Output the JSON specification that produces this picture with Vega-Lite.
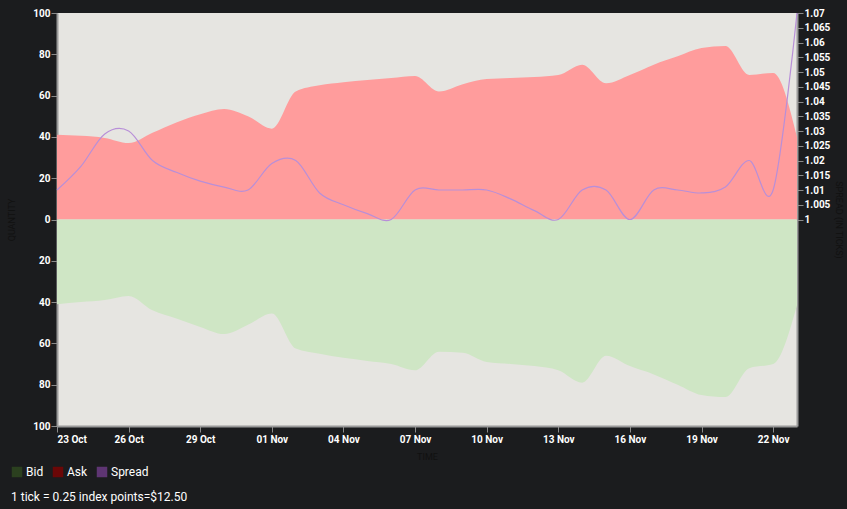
{
  "$schema": "https://vega.github.io/schema/vega-lite/v6.json",
  "autosize": "none",
  "width": 740,
  "height": 413,
  "padding": {"left": 57, "top": 13, "right": 50, "bottom": 83},
  "background": "#1b1c1e",
  "view": {"fill": "#e6e5e1", "stroke": null},
  "config": {
    "view": {"fill": "#e6e5e1", "stroke": null},
    "font": "Roboto",
    "axis": {
      "labelColor": "#ffffff",
      "labelFont": "Roboto",
      "labelFontSize": 10,
      "labelFontWeight": "bold",
      "tickColor": "#8a8a8a",
      "domainColor": "#9a9a9a",
      "domainWidth": 2,
      "tickSize": 6,
      "grid": false,
      "titleColor": "#111111",
      "titleFont": "Roboto",
      "titleFontSize": 9,
      "titleFontWeight": "normal"
    }
  },
  "title": {
    "text": "1 tick = 0.25 index points=$12.50",
    "orient": "bottom",
    "anchor": "start",
    "frame": "group",
    "color": "#ffffff",
    "font": "Roboto",
    "fontSize": 12,
    "fontWeight": "normal",
    "dx": -46,
    "offset": 14
  },
  "datasets": {
    "daily": [
      {"date": "2017-10-23T00:00:00", "ask": 41, "bid": -41, "spread": 1.010},
      {"date": "2017-10-24T00:00:00", "ask": 40.5, "bid": -40, "spread": 1.018},
      {"date": "2017-10-25T00:00:00", "ask": 39.5, "bid": -39, "spread": 1.029},
      {"date": "2017-10-26T00:00:00", "ask": 37, "bid": -37, "spread": 1.030},
      {"date": "2017-10-27T00:00:00", "ask": 42, "bid": -44, "spread": 1.020},
      {"date": "2017-10-28T00:00:00", "ask": 47, "bid": -48, "spread": 1.016},
      {"date": "2017-10-29T00:00:00", "ask": 51, "bid": -52, "spread": 1.013},
      {"date": "2017-10-30T00:00:00", "ask": 53.5, "bid": -55.5, "spread": 1.011},
      {"date": "2017-10-31T00:00:00", "ask": 50, "bid": -51, "spread": 1.010},
      {"date": "2017-11-01T00:00:00", "ask": 44, "bid": -45.5, "spread": 1.019},
      {"date": "2017-11-02T00:00:00", "ask": 62, "bid": -62.5, "spread": 1.020},
      {"date": "2017-11-03T00:00:00", "ask": 65, "bid": -65, "spread": 1.009},
      {"date": "2017-11-04T00:00:00", "ask": 66.5, "bid": -67, "spread": 1.005},
      {"date": "2017-11-05T00:00:00", "ask": 67.5, "bid": -68.5, "spread": 1.002},
      {"date": "2017-11-06T00:00:00", "ask": 68.5, "bid": -70, "spread": 1.000},
      {"date": "2017-11-07T00:00:00", "ask": 69.5, "bid": -73, "spread": 1.010},
      {"date": "2017-11-08T00:00:00", "ask": 62, "bid": -64, "spread": 1.010},
      {"date": "2017-11-09T00:00:00", "ask": 65.5, "bid": -64.5, "spread": 1.010},
      {"date": "2017-11-10T00:00:00", "ask": 68, "bid": -69, "spread": 1.010},
      {"date": "2017-11-11T00:00:00", "ask": 68.5, "bid": -70, "spread": 1.007},
      {"date": "2017-11-12T00:00:00", "ask": 69, "bid": -71, "spread": 1.003},
      {"date": "2017-11-13T00:00:00", "ask": 70, "bid": -73, "spread": 1.000},
      {"date": "2017-11-14T00:00:00", "ask": 75, "bid": -79, "spread": 1.010},
      {"date": "2017-11-15T00:00:00", "ask": 66, "bid": -66, "spread": 1.010},
      {"date": "2017-11-16T00:00:00", "ask": 70, "bid": -71, "spread": 1.000},
      {"date": "2017-11-17T00:00:00", "ask": 75, "bid": -75, "spread": 1.010},
      {"date": "2017-11-18T00:00:00", "ask": 79, "bid": -80, "spread": 1.010},
      {"date": "2017-11-19T00:00:00", "ask": 83, "bid": -85, "spread": 1.009},
      {"date": "2017-11-20T00:00:00", "ask": 84, "bid": -86, "spread": 1.011},
      {"date": "2017-11-21T00:00:00", "ask": 70, "bid": -72, "spread": 1.020},
      {"date": "2017-11-22T00:00:00", "ask": 71, "bid": -70, "spread": 1.010},
      {"date": "2017-11-23T00:00:00", "ask": 40, "bid": -41.5, "spread": 1.070}
    ],
    "legendItems": [
      {"series": "Bid"},
      {"series": "Ask"},
      {"series": "Spread"}
    ]
  },
  "data": {"name": "daily"},
  "layer": [
    {
      "layer": [
        {
          "mark": {"type": "area", "interpolate": "monotone", "fill": "#ff9c9c", "fillOpacity": 1},
          "encoding": {
            "x": {
              "field": "date",
              "type": "temporal",
              "scale": {"nice": false, "padding": 0},
              "axis": {
                "title": "TIME",
                "format": "%d %b",
                "labelPadding": 2,
                "titlePadding": 8,
                "values": [
                  {"year": 2017, "month": 10, "date": 23},
                  {"year": 2017, "month": 10, "date": 26},
                  {"year": 2017, "month": 10, "date": 29},
                  {"year": 2017, "month": 11, "date": 1},
                  {"year": 2017, "month": 11, "date": 4},
                  {"year": 2017, "month": 11, "date": 7},
                  {"year": 2017, "month": 11, "date": 10},
                  {"year": 2017, "month": 11, "date": 13},
                  {"year": 2017, "month": 11, "date": 16},
                  {"year": 2017, "month": 11, "date": 19},
                  {"year": 2017, "month": 11, "date": 22}
                ]
              }
            },
            "y": {
              "field": "ask",
              "type": "quantitative",
              "scale": {"domain": [-100, 100], "nice": false},
              "axis": {
                "title": "QUANTITY",
                "orient": "left",
                "values": [-100, -80, -60, -40, -20, 0, 20, 40, 60, 80, 100],
                "labelExpr": "format(abs(datum.value), 'd')",
                "labelPadding": 1,
                "titlePadding": 16
              }
            }
          }
        },
        {
          "mark": {"type": "area", "interpolate": "monotone", "fill": "#cfe6c5", "fillOpacity": 1},
          "encoding": {
            "x": {"field": "date", "type": "temporal"},
            "y": {"field": "bid", "type": "quantitative"}
          }
        }
      ]
    },
    {
      "mark": {"type": "line", "interpolate": "cardinal", "strokeWidth": 1.2, "stroke": "#b88fd8"},
      "encoding": {
        "x": {"field": "date", "type": "temporal"},
        "y": {
          "field": "spread",
          "type": "quantitative",
          "scale": {"domain": [0.93, 1.07], "nice": false, "zero": false},
          "axis": {
            "title": "SPREAD (IN TICKS)",
            "orient": "right",
            "values": [1, 1.005, 1.01, 1.015, 1.02, 1.025, 1.03, 1.035, 1.04, 1.045, 1.05, 1.055, 1.06, 1.065, 1.07],
            "labelExpr": "format(datum.value, '~g')",
            "labelPadding": 1,
            "titlePadding": 4
          }
        }
      }
    },
    {
      "data": {"name": "legendItems"},
      "mark": {"type": "square", "size": 0, "opacity": 1, "filled": true},
      "encoding": {
        "color": {
          "field": "series",
          "type": "nominal",
          "scale": {"domain": ["Bid", "Ask", "Spread"], "range": ["#2b401f", "#6b0707", "#5e3573"]},
          "legend": {
            "orient": "none",
            "legendX": -46,
            "legendY": 453,
            "direction": "horizontal",
            "title": null,
            "symbolType": "square",
            "symbolSize": 110,
            "symbolStrokeWidth": 0,
            "symbolOpacity": 1,
            "labelColor": "#ffffff",
            "labelFont": "Roboto",
            "labelFontSize": 12,
            "columnPadding": 8,
            "labelOffset": 3
          }
        }
      }
    }
  ],
  "resolve": {"scale": {"y": "independent"}}
}
